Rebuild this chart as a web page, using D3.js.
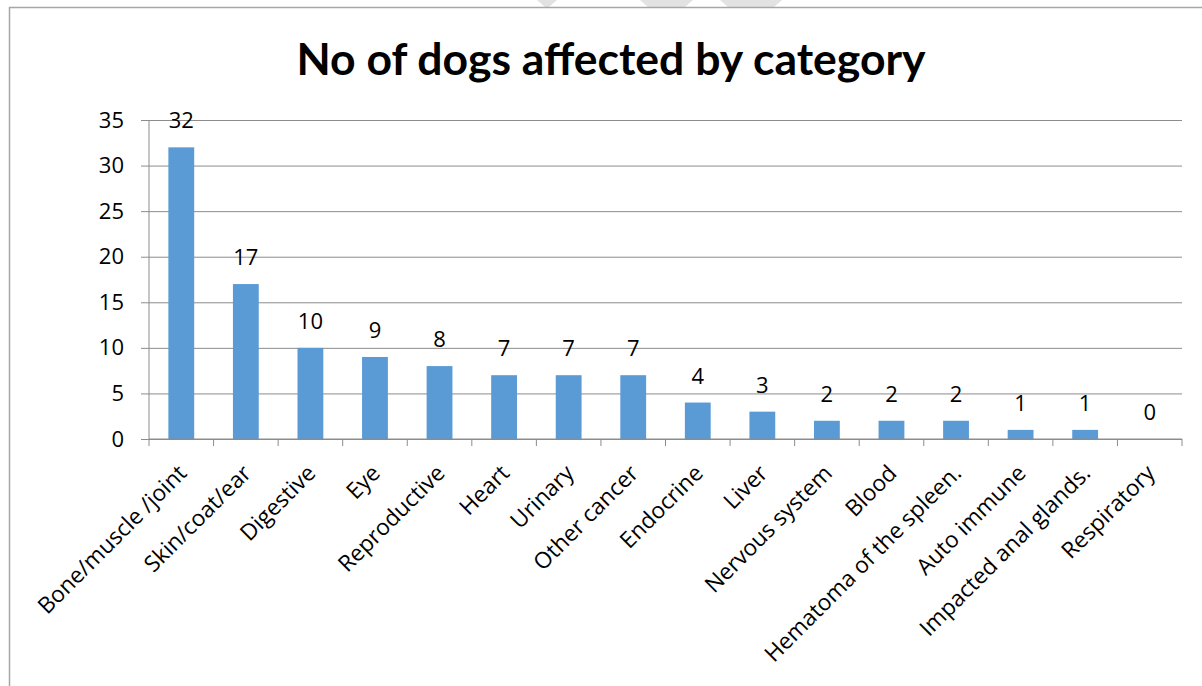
<!DOCTYPE html>
<html>
<head>
<meta charset="utf-8">
<script src="https://cdn.jsdelivr.net/npm/d3@7"></script>
<style>
  html, body { margin: 0; padding: 0; background: #fff; }
  svg { display: block; }
  text { font-family: "Open Sans", Lato, sans-serif; fill: #000; }
</style>
</head>
<body>
<svg id="chart" width="1202" height="686"></svg>
<script>
const title = "No of dogs affected by category";
const categories = ["Bone/muscle /joint", "Skin/coat/ear", "Digestive", "Eye", "Reproductive", "Heart", "Urinary", "Other cancer", "Endocrine", "Liver", "Nervous system", "Blood", "Hematoma of the spleen.", "Auto immune", "Impacted anal glands.", "Respiratory"];
const values = [32, 17, 10, 9, 8, 7, 7, 7, 4, 3, 2, 2, 2, 1, 1, 0];
const yTicks = [0, 5, 10, 15, 20, 25, 30, 35];

const svg = d3.select("#chart");

// faint watermark shapes at the very top (page background)
const wm = svg.append("g").attr("fill", "#e2e2e2");
[[537, 557], [640, 693], [720, 782]].forEach(([a, b]) => {
  wm.append("path").attr("d", `M${a},0 L${b},0 L${b - 8},7 L${a + 8},7 Z`);
});

// chart border
svg.append("path")
  .attr("d", "M9.5,686 L9.5,7.5 L1202,7.5")
  .attr("fill", "none").attr("stroke", "#a6a6a6").attr("stroke-width", 1.5);

const plotLeft = 149, plotRight = 1182, plotTop = 120, plotBottom = 439;
const fontSize = "22px";

const x = d3.scaleBand().domain(categories).range([plotLeft, plotRight])
  .paddingInner(0.6).paddingOuter(0.3);
const y = d3.scaleLinear().domain([0, 35]).range([plotBottom, plotTop]);

// title
svg.append("text")
  .attr("x", 611).attr("y", 75)
  .attr("text-anchor", "middle")
  .style("font-family", "Lato, sans-serif")
  .style("font-size", "44.5px").style("font-weight", "bold")
  .text(title);

// gridlines + y tick marks
const yAxis = d3.axisLeft(y).tickValues(yTicks).tickSize(-(plotRight - plotLeft)).tickSizeOuter(0).tickPadding(25);
const gy = svg.append("g").attr("transform", `translate(${plotLeft},0)`).call(yAxis);
gy.select(".domain").remove();
gy.selectAll(".tick line").attr("stroke", "#8c8c8c").attr("x1", -8);
gy.selectAll(".tick text").style("font-size", fontSize).style("font-family", "'Open Sans', sans-serif").attr("fill", "#000");

// y axis line
svg.append("line").attr("x1", plotLeft).attr("x2", plotLeft).attr("y1", plotTop).attr("y2", plotBottom)
  .attr("stroke", "#8c8c8c");

// bars
svg.append("g").selectAll("rect").data(values).join("rect")
  .attr("x", (d, i) => x(categories[i]))
  .attr("width", x.bandwidth())
  .attr("y", d => y(d))
  .attr("height", d => y(0) - y(d))
  .attr("fill", "#5b9bd5");

// value labels
svg.append("g").selectAll("text").data(values).join("text")
  .attr("x", (d, i) => x(categories[i]) + x.bandwidth() / 2)
  .attr("y", d => y(d) - 19)
  .attr("text-anchor", "middle")
  .style("font-size", fontSize)
  .text(d => d);

// x axis line and tick marks at category boundaries
svg.append("line").attr("x1", plotLeft).attr("x2", plotRight).attr("y1", plotBottom).attr("y2", plotBottom)
  .attr("stroke", "#8c8c8c");
const boundaries = categories.map(c => x(c) - x.step() * x.paddingOuter()).concat([plotRight]);
svg.append("g").selectAll("line").data(boundaries).join("line")
  .attr("x1", d => d).attr("x2", d => d).attr("y1", plotBottom).attr("y2", plotBottom + 7)
  .attr("stroke", "#8c8c8c");

// category labels rotated -45
svg.append("g").selectAll("text").data(categories).join("text")
  .attr("transform", c => `translate(${x(c) + x.bandwidth() / 2 + 1},${plotBottom + 30}) rotate(-45)`)
  .attr("text-anchor", "end")
  .attr("dy", "0.35em")
  .style("font-size", "22.6px")
  .text(c => c);
</script>
</body>
</html>
